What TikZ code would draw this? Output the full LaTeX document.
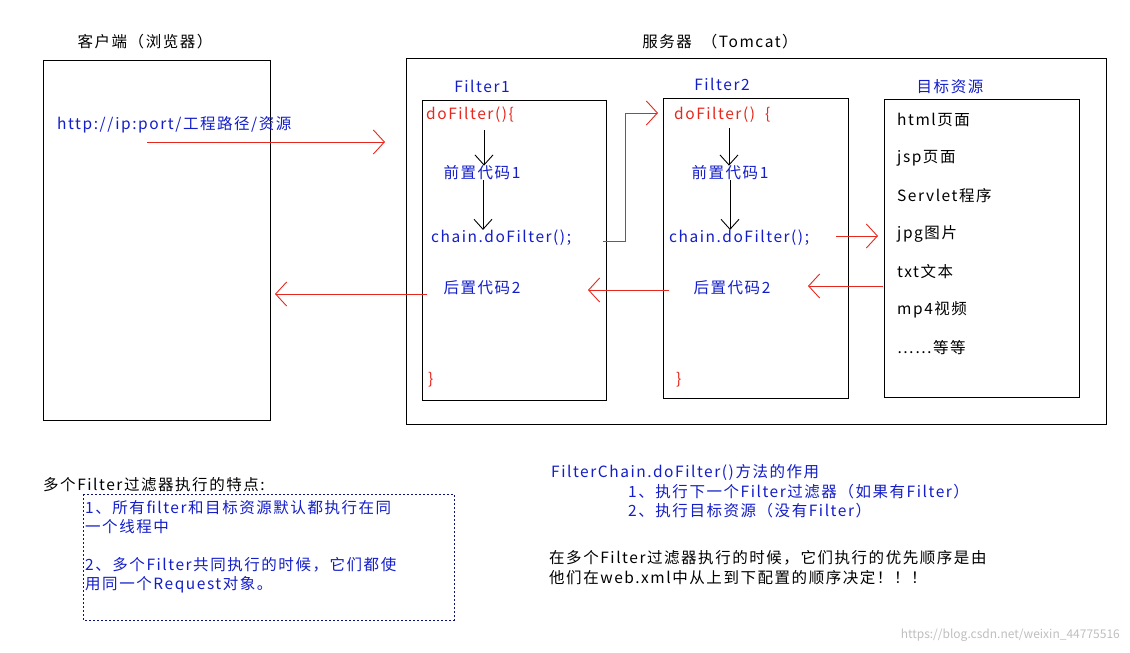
\documentclass[tikz,border=0pt]{standalone}
\usepackage{fontspec}
\setmainfont[LetterSpace=10]{Noto Sans CJK SC}
\usetikzlibrary{arrows.meta}
\definecolor{tblue}{RGB}{20,30,200}
\definecolor{tred}{RGB}{230,40,30}
\begin{document}
\begin{tikzpicture}[x=1pt,y=-1pt,
  box/.style={draw=black,line width=0.9pt},
  t/.style={inner sep=0,font=\fontsize{15.5}{18}\selectfont},
  tl/.style={t,anchor=west},
  ra/.style={draw=tred,line width=0.9pt,-{Straight Barb[length=11pt,width=24pt]}},
  ka/.style={draw=black,line width=0.9pt,-{Straight Barb[length=10pt,width=18pt]}}]
\useasboundingbox (0,0) rectangle (1130,653);
\fill[white] (0,0) rectangle (1130,653);
% boxes
\draw[box] (43,60) rectangle (270,420);
\draw[box] (406,58) rectangle (1106,424);
\draw[box] (422,100) rectangle (606,400);
\draw[box] (663,98) rectangle (848,398);
\draw[box] (884,99) rectangle (1079,397);
\node[t] (ct) at (145,42) {客户端（浏览器）};
\node[t] (st) at (720,42) {服务器\ \ （Tomcat）};
\node[t,text=tblue] (f1) at (482,86) {Filter1};
\node[t,text=tblue] (f2) at (722,84) {Filter2};
\node[t,text=tblue] (tr) at (950,87) {目标资源};
\node[tl,text=tblue] (url) at (57,125) {http://ip:port/工程路径/资源};
\coordinate (u1) at (147,142); \coordinate (u2) at (385,142);
\draw[ra] (u1) -- (u2);
% filter1
\node[tl,text=tred] (d1) at (426,115) {doFilter()\{};
\node[t,text=tblue] (p1) at (482,173) {前置代码1};
\node[tl,text=tblue] (c1) at (431,238) {chain.doFilter();};
\node[t,text=tblue] (h1) at (482,288) {后置代码2};
\node[tl,text=tred] (e1) at (428,380) {\}};
\draw[ka] (484,130) -- (p1.north -| 484,0);
\draw[ka] (p1.south -| 483,0) -- (c1.north -| 483,0);
% filter2
\node[tl,text=tred] (d2) at (674,115) {doFilter()\ \ \{};
\node[t,text=tblue] (p2) at (730,173) {前置代码1};
\node[tl,text=tblue] (c2) at (669,238) {chain.doFilter();};
\node[t,text=tblue] (h2) at (732,288) {后置代码2};
\node[tl,text=tred] (e2) at (676,380) {\}};
\draw[ka] (729,128) -- (p2.north -| 729,0);
\draw[ka] (p2.south -| 730,0) -- (c2.north -| 730,0);
% target
\foreach \s/\y [count=\i] in {html页面/120,jsp页面/158,Servlet程序/196,jpg图片/234,txt文本/272,mp4视频/310,……等等/348}
  \node[tl] (r\i) at (897,\y) {\s};
% red connectors
\coordinate (a1) at (603,241);
\coordinate (a2) at (658,113);
\draw[ra] (a1) -- (625,241) -- (625,113) -- (a2);
\coordinate (a3) at (836,236);
\coordinate (a4) at (878,236);
\draw[ra] (a3) -- (a4);
\draw[ra] (883,286) -- (808,286);
\draw[ra] (669,290) -- (588,290);
\draw[ra] (427,294) -- (275,294);
% bottom
\node[tl] (b0) at (43,485) {多个Filter过滤器执行的特点:};
\draw[tblue!60!black,line width=1pt,dash pattern=on 2pt off 2pt] (83,494) rectangle (454,620);
\node[tl,text=tblue] (b1) at (85,508) {1、所有filter和目标资源默认都执行在同};
\node[tl,text=tblue] (b2) at (85,527) {一个线程中};
\node[tl,text=tblue] (b3) at (85,565) {2、多个Filter共同执行的时候，它们都使};
\node[tl,text=tblue] (b4) at (85,585) {用同一个Request对象。};
\node[tl,text=tblue] (g0) at (551,472) {FilterChain.doFilter()方法的作用};
\node[tl,text=tblue] (g1) at (628,492) {1、执行下一个Filter过滤器（如果有Filter）};
\node[tl,text=tblue] (g2) at (628,511) {2、执行目标资源（没有Filter）};
\node[tl] (k1) at (549,558) {在多个Filter过滤器执行的时候，它们执行的优先顺序是由};
\node[tl] (k2) at (549,578) {他们在web.xml中从上到下配置的顺序决定！！！};
\node[anchor=east,inner sep=0,text=black!25,font=\fontsize{12}{14}\selectfont\addfontfeatures{LetterSpace=0}] (wm) at (1120,635) {https://blog.csdn.net/weixin\_44775516};
\end{tikzpicture}
\end{document}
